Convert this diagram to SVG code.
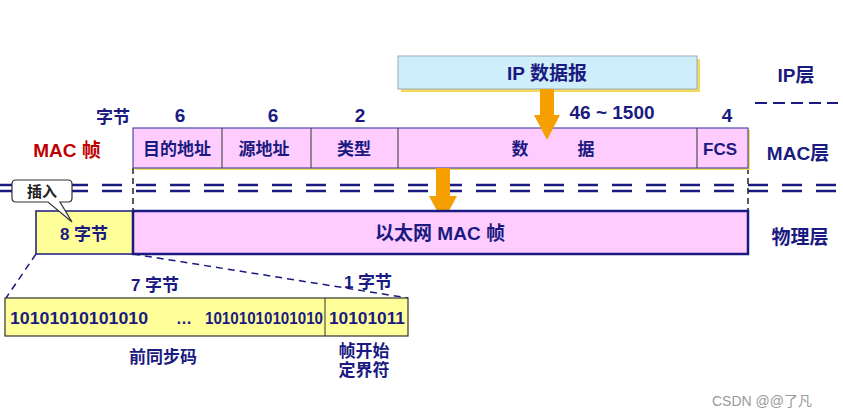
<svg xmlns="http://www.w3.org/2000/svg" width="843" height="418" viewBox="0 0 843 418">
<style>
text{font-family:"Liberation Sans","Noto Sans CJK SC",sans-serif;font-weight:bold;fill:#1a1a80;text-anchor:middle}
.f{font-size:19px}
.s{font-size:17px}
.b{font-size:16px;text-anchor:start}
.pink{fill:#ffccff;stroke:#4b4ba8;stroke-width:1.2}
.dash{stroke:#1a1a80;stroke-width:2.5;stroke-dasharray:20,14}
</style>
<rect width="843" height="418" fill="#fff"/>
<g id="connectors">
<line x1="0" y1="185" x2="843" y2="185" class="dash"/>
<line x1="0" y1="191" x2="843" y2="191" class="dash"/>
<line x1="755" y1="103" x2="838" y2="103" stroke="#1a1a80" stroke-width="2" stroke-dasharray="12,6"/>
<line x1="133" y1="168" x2="133" y2="211" stroke="#222" stroke-width="1.5" stroke-dasharray="6,4"/>
<line x1="748" y1="168" x2="748" y2="211" stroke="#222" stroke-width="1.5" stroke-dasharray="6,4"/>
<line x1="36" y1="254" x2="6" y2="298" stroke="#1a1a80" stroke-width="1.5" stroke-dasharray="7,5"/>
<line x1="133" y1="254" x2="408" y2="298" stroke="#1a1a80" stroke-width="1.5" stroke-dasharray="7,5"/>
</g>
<g id="ip">
<rect x="401" y="59" width="299" height="33" fill="#f5d95a"/>
<rect x="398" y="56" width="299" height="33" fill="#cdeefa" stroke="#9ab" stroke-width="1"/>
<text x="547" y="80" class="f">IP 数据报</text>
</g>
<g id="mac">
<rect x="135" y="130" width="615" height="40" fill="#f5d95a"/>
<rect x="133" y="128" width="615" height="40" class="pink"/>
<line x1="222" y1="128" x2="222" y2="168" stroke="#333"/>
<line x1="311" y1="128" x2="311" y2="168" stroke="#333"/>
<line x1="398" y1="128" x2="398" y2="168" stroke="#333"/>
<line x1="697" y1="128" x2="697" y2="168" stroke="#333"/>
<text x="177" y="155" class="s">目的地址</text>
<text x="264" y="155" class="s">源地址</text>
<text x="354" y="155" class="s">类型</text>
<text x="520" y="155" class="s">数</text>
<text x="586" y="155" class="s">据</text>
<text x="720" y="155" class="s">FCS</text>
<text x="113" y="123" class="s">字节</text>
<text x="180" y="122" class="f">6</text>
<text x="273" y="122" class="f">6</text>
<text x="360" y="122" class="f">2</text>
<text x="612" y="119" class="f">46 ~ 1500</text>
<text x="727" y="122" class="f">4</text>
<text x="67" y="157" class="f" style="fill:#c00000">MAC 帧</text>
</g>
<g id="arrows" fill="#f5a000">
<polygon points="540,89 554,89 554,115 560,115 547,140 534,115 540,115"/>
<polygon points="436,168 450,168 450,196 457,196 443,222 429,196 436,196"/>
</g>
<g id="phys">
<rect x="36" y="211" width="97" height="43" fill="#ffff99" stroke="#1a1a80" stroke-width="1.5"/>
<rect x="133" y="211" width="615" height="43" fill="#ffccff" stroke="#1a1a80" stroke-width="2.5"/>
<text x="84" y="240" class="s">8 字节</text>
<text x="440" y="240" class="f">以太网 MAC 帧</text>
</g>
<g id="callout">
<path d="M16,180 H68 Q72,180 72,184 V198 Q72,202 68,202 H60 L72,222 L48,202 H16 Q12,202 12,198 V184 Q12,180 16,180 Z" fill="#fff" stroke="#333" stroke-width="1.2"/>
<text x="42" y="197" style="font-size:15px;fill:#222">插入</text>
</g>
<g id="preamble">
<rect x="5" y="298" width="403" height="38" fill="#ffff99" stroke="#333" stroke-width="1.2"/>
<line x1="325" y1="298" x2="325" y2="336" stroke="#333"/>
<text x="10" y="324" class="b" textLength="138" lengthAdjust="spacingAndGlyphs">10101010101010</text>
<text x="176" y="324" class="b">…</text>
<text x="205" y="324" class="b" textLength="118" lengthAdjust="spacingAndGlyphs">10101010101010</text>
<text x="329" y="324" class="b" textLength="76" lengthAdjust="spacingAndGlyphs">10101011</text>
<text x="155" y="291" class="s">7 字节</text>
<text x="368" y="288" class="s">1 字节</text>
<text x="163" y="363" class="s">前同步码</text>
<text x="364" y="357" class="s">帧开始</text>
<text x="364" y="376" class="s">定界符</text>
</g>
<g id="layers">
<text x="796" y="82" class="f">IP层</text>
<text x="798" y="160" class="f">MAC层</text>
<text x="800" y="244" class="f">物理层</text>
</g>
<text x="762" y="406" style="font-size:14px;font-weight:normal;fill:#999">CSDN @@了凡</text>
</svg>
